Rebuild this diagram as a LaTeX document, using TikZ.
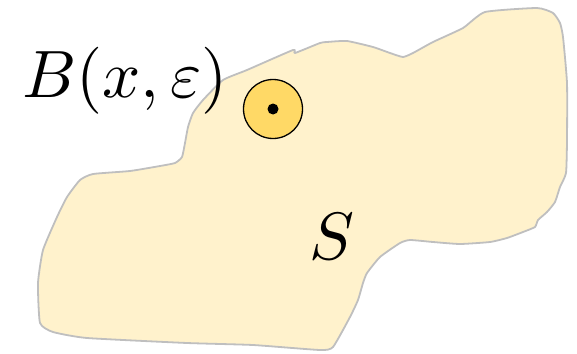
\documentclass[tikz,border=0pt]{standalone}
\usepackage{graphicx}
\usepackage{amsmath}
\definecolor{blobfill}{HTML}{FFF2CC}
\definecolor{blobline}{HTML}{BFBFBF}
\definecolor{ballfill}{HTML}{FFD966}
\tikzset{
  blob/.style={fill=blobfill, draw=blobline, line width=1.8pt, line join=round},
  ball/.style={circle, fill=ballfill, draw=black, line width=1.3pt, minimum size=59pt, inner sep=0pt},
  centre/.style={circle, fill=black, minimum size=11pt, inner sep=0pt},
  lbl/.style={inner sep=0pt}
}
\begin{document}
\begin{tikzpicture}[x=1pt,y=-1pt]
\useasboundingbox (0,0) rectangle (577,353);
\draw[blob] plot[smooth cycle, tension=0.3] coordinates {
(193,113) (203,100) (223,80) (247,70) (293,50) (295,53) (320,43) (327,42) (347,41)
(373,47) (390,53) (403,57) (413,53) (433,42) (463,28) (485,12) (537,8) (553,13)
(560,23) (563,37) (567,83) (567,140) (566,173) (560,187) (555,202) (547,212)
(538,220) (535,227) (523,232) (507,238) (490,242) (460,244) (433,242) (410,240)
(400,243) (380,257) (367,273) (363,283) (358,300) (350,317) (333,347) (320,350) (253,345)
(187,343) (87,338) (53,332) (40,323) (38,283) (43,250) (57,217) (67,197) (80,180)
(93,174) (130,171) (160,166) (175,163) (182,157) (185,143) (188,127)};
\node[ball] (ball) at (273,109) {};
\node[centre] (x) at (ball.center) {};
\node[lbl, anchor=base west] (blabel) at (22,97) {\scalebox{6.7}{$B(x,\varepsilon)$}};
\node[lbl, anchor=base west] (S) at (309,259) {\scalebox{6.7}{$S$}};
\end{tikzpicture}
\end{document}
